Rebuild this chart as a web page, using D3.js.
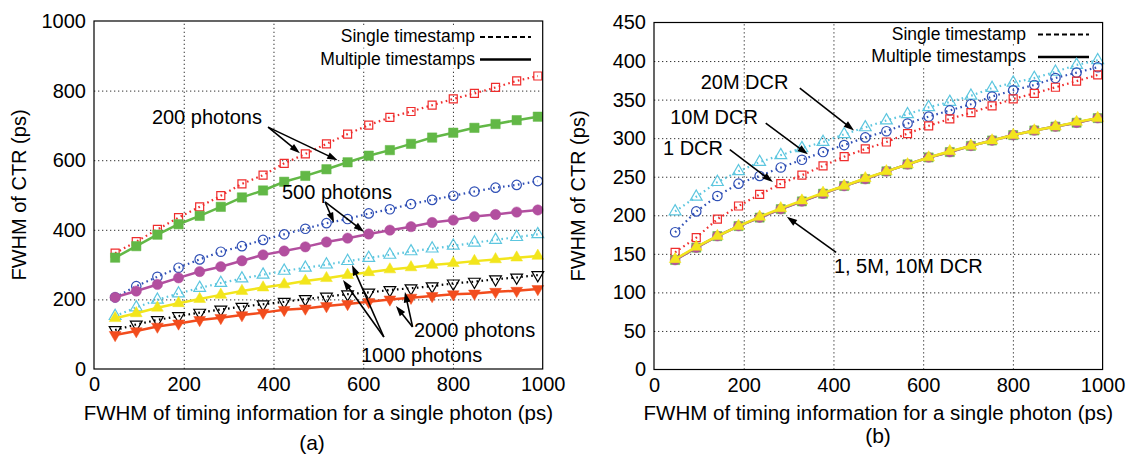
<!DOCTYPE html>
<html>
<head>
<meta charset="utf-8" />
<title>FWHM of CTR</title>
<script src="https://cdn.jsdelivr.net/npm/d3@7"></script>
<style>
  body { margin: 0; background: #fff; }
  svg text { font-family: "Liberation Sans", Arial, Helvetica, sans-serif; fill: #000; }
</style>
</head>
<body>
<div id="chart"></div>
<script>
// x positions of the points (FWHM of single photon timing, ps)
var xVals = [47.1, 94.2, 141.3, 188.4, 235.5, 282.6, 329.7, 376.8, 423.9, 471.0, 518.1,
             565.2, 612.3, 659.4, 706.5, 753.6, 800.7, 847.8, 894.9, 942.0, 989.1];

// (a) photon counts
var ph200Single  = [333, 366, 401, 435, 466, 498, 532, 557, 591, 618, 647, 675, 701, 723, 740, 758, 776, 792, 809, 828, 842];
var ph200Multi   = [320, 353, 386, 416, 440, 466, 493, 513, 538, 555, 574, 594, 613, 629, 647, 665, 679, 693, 704, 715, 725];
var ph500Single  = [206, 238, 265, 291, 315, 337, 353, 371, 387, 403, 419, 431, 447, 459, 474, 486, 498, 510, 521, 529, 540];
var ph500Multi   = [206, 224, 243, 262, 280, 294, 311, 328, 339, 351, 365, 376, 388, 399, 409, 421, 428, 438, 444, 451, 457];
var ph1000Single = [152, 177, 199, 217, 233, 247, 260, 271, 282, 291, 300, 310, 319, 328, 338, 346, 354, 363, 371, 379, 387];
var ph1000Multi  = [146, 160, 176, 189, 201, 213, 224, 234, 243, 253, 261, 270, 278, 286, 292, 299, 304, 310, 315, 320, 325];
var ph2000Single = [112, 128, 141, 152, 162, 171, 179, 186, 193, 201, 208, 215, 220, 227, 232, 238, 246, 251, 258, 263, 270];
var ph2000Multi  = [98, 109, 122, 131, 141, 147, 155, 162, 170, 174, 181, 187, 193, 200, 205, 210, 215, 217, 222, 225, 230];

// (b) dark count rates
var dcr20MSingle = [205, 224, 243, 257, 269, 278, 287, 295, 305, 314, 323, 331, 340, 347, 355, 365, 372, 378, 386, 395, 401];
var dcr10MSingle = [178, 205, 225, 241, 251, 262, 272, 282, 291, 301, 309, 319, 328, 336, 344, 354, 362, 369, 378, 385, 392];
var dcr1Single   = [152, 171, 195, 212, 227, 241, 252, 264, 276, 286, 295, 306, 316, 325, 333, 342, 351, 358, 366, 374, 382];
var dcr1Multi    = [142, 158, 173, 186, 197, 208, 218, 228, 238, 247, 257, 266, 275, 282, 290, 297, 304, 310, 315, 320, 326];
var dcr5MMulti   = [142, 158, 173, 186, 197, 208, 218, 228, 238, 247, 257, 266, 275, 282, 290, 297, 304, 310, 315, 320, 326];
var dcr10MMulti  = [143, 159, 173, 186, 198, 209, 219, 229, 238, 248, 257, 266, 275, 283, 290, 297, 304, 310, 315, 321, 326];

var xTicks = [0, 200, 400, 600, 800, 1000];
var yTicksA = [0, 200, 400, 600, 800, 1000];
var yTicksB = [0, 50, 100, 150, 200, 250, 300, 350, 400, 450];

var legendLabels = ["Single timestamp", "Multiple timestamps"];

var width = 1126, height = 457;
var svg = d3.select("#chart").append("svg").attr("width", width).attr("height", height);

var RED = "#ef2d2d", GREEN = "#62b846", BLUE = "#2f4fb5", MAGENTA = "#b24f9f",
    CYAN = "#5cc6df", YELLOW = "#f2e51c", BLACK = "#000", ORANGE = "#f24c1d";

var fmt = d3.format("d");

function drawPanel(cfg) {
  var x = d3.scaleLinear().domain([0, 1000]).range([cfg.left, cfg.right]);
  var y = d3.scaleLinear().domain([0, cfg.ymax]).range([cfg.bottom, cfg.top]);
  var g = svg.append("g");

  // grid
  g.append("g").attr("transform", "translate(0," + cfg.bottom + ")")
    .call(d3.axisBottom(x).tickValues(xTicks.slice(1, -1)).tickSize(cfg.top - cfg.bottom).tickFormat(""))
    .call(function(s) { s.select(".domain").remove(); })
    .selectAll("line").attr("stroke", "#333").attr("stroke-dasharray", "1.3,2.7");
  g.append("g").attr("transform", "translate(" + cfg.left + ",0)")
    .call(d3.axisLeft(y).tickValues(cfg.yTicks.slice(1, -1)).tickSize(cfg.left - cfg.right).tickFormat(""))
    .call(function(s) { s.select(".domain").remove(); })
    .selectAll("line").attr("stroke", "#333").attr("stroke-dasharray", "1.3,2.7");

  // tick labels
  var ax = g.append("g").attr("transform", "translate(0," + cfg.bottom + ")")
    .call(d3.axisBottom(x).tickValues(xTicks).tickFormat(fmt).tickSize(0).tickPadding(8));
  ax.select(".domain").remove();
  ax.selectAll("text").style("font-size", "20px");
  var ay = g.append("g").attr("transform", "translate(" + cfg.left + ",0)")
    .call(d3.axisLeft(y).tickValues(cfg.yTicks).tickFormat(fmt).tickSize(0).tickPadding(8));
  ay.select(".domain").remove();
  ay.selectAll("text").style("font-size", "20px");

  // legend
  var leg = g.append("g");
  legendLabels.forEach(function(lbl, i) {
    var by = cfg.legY[i];
    var t = leg.append("text").attr("x", cfg.legTextRight).attr("y", by)
      .attr("text-anchor", "end").style("font-size", "17.5px").text(lbl);
    var bb = t.node().getBBox();
    leg.insert("rect", "text").attr("x", bb.x - 3).attr("y", bb.y).attr("width", bb.width + 5)
      .attr("height", bb.height).attr("fill", "#fff");
    leg.append("line").attr("x1", cfg.legLine[0]).attr("x2", cfg.legLine[1])
      .attr("y1", by - 5).attr("y2", by - 5).attr("stroke", "#000")
      .attr("stroke-width", i === 0 ? 2 : 2.5)
      .attr("stroke-dasharray", i === 0 ? "5,3" : null);
  });

  // series
  var line = d3.line().x(function(d, i) { return x(xVals[i]); }).y(function(d) { return y(d); });
  cfg.series.forEach(function(s) {
    var sg = g.append("g");
    sg.append("path").datum(s.values).attr("d", line).attr("fill", "none")
      .attr("stroke", s.color).attr("stroke-width", s.dotted ? 2.2 : 2.5)
      .attr("stroke-dasharray", s.dotted ? "1.6,3.4" : null);
    var sym = d3.symbol().type(s.shape).size(s.size);
    sg.selectAll("path.pt").data(s.values).enter().append("path").attr("class", "pt")
      .attr("d", sym)
      .attr("transform", function(d, i) {
        return "translate(" + x(xVals[i]) + "," + y(d) + ")" + (s.down ? " rotate(180)" : "");
      })
      .attr("fill", s.open ? "none" : s.color)
      .attr("stroke", s.color).attr("stroke-width", s.open ? 1.2 : 0.5);
  });

  // border
  g.append("rect").attr("x", cfg.left).attr("y", cfg.top)
    .attr("width", cfg.right - cfg.left).attr("height", cfg.bottom - cfg.top)
    .attr("fill", "none").attr("stroke", "#000").attr("stroke-width", 1.2);

  // annotations
  cfg.notes.forEach(function(n) {
    g.append("text").attr("x", x(n.tx)).attr("y", y(n.ty)).style("font-size", "20px").text(n.text);
    n.to.forEach(function(p) {
      var x0 = x(n.from[0]), y0 = y(n.from[1]), x1 = x(p[0]), y1 = y(p[1]);
      var a = Math.atan2(y1 - y0, x1 - x0), L = 11, w = 0.32;
      g.append("line").attr("x1", x0).attr("y1", y0)
        .attr("x2", x1 - Math.cos(a) * 6).attr("y2", y1 - Math.sin(a) * 6)
        .attr("stroke", "#000").attr("stroke-width", 1.6);
      var pts = [[x1, y1],
                 [x1 - L * Math.cos(a - w), y1 - L * Math.sin(a - w)],
                 [x1 - L * Math.cos(a + w), y1 - L * Math.sin(a + w)]];
      g.append("path").attr("d", "M" + pts.join("L") + "Z").attr("fill", "#000");
    });
  });

  // axis titles
  svg.append("text").attr("x", (cfg.left + cfg.right) / 2).attr("y", 420)
    .attr("text-anchor", "middle").style("font-size", "20.5px")
    .text("FWHM of timing information for a single photon (ps)");
  svg.append("text").attr("transform", "translate(" + cfg.ytitleX + "," + ((cfg.top + cfg.bottom) / 2) + ") rotate(-90)")
    .attr("text-anchor", "middle").style("font-size", "20px").text("FWHM of CTR (ps)");
  svg.append("text").attr("x", cfg.capX).attr("y", cfg.capY)
    .attr("text-anchor", "middle").style("font-size", "21px").text(cfg.caption);
}

drawPanel({
  left: 94, right: 542.7, top: 21, bottom: 369, ymax: 1000, yTicks: yTicksA,
  legTextRight: 475, legLine: [480, 531], legY: [42, 64.5],
  ytitleX: 26, capX: 312, capY: 450, caption: "(a)",
  series: [
    { values: ph200Single, color: RED, dotted: true, open: true, shape: d3.symbolSquare, size: 64 },
    { values: ph200Multi, color: GREEN, dotted: false, open: false, shape: d3.symbolSquare, size: 88 },
    { values: ph500Single, color: BLUE, dotted: true, open: true, shape: d3.symbolCircle, size: 70 },
    { values: ph500Multi, color: MAGENTA, dotted: false, open: false, shape: d3.symbolCircle, size: 84 },
    { values: ph1000Single, color: CYAN, dotted: true, open: true, shape: d3.symbolTriangle, size: 60 },
    { values: ph1000Multi, color: YELLOW, dotted: false, open: false, shape: d3.symbolTriangle, size: 60 },
    { values: ph2000Single, color: BLACK, dotted: true, open: true, shape: d3.symbolTriangle, size: 60, down: true },
    { values: ph2000Multi, color: ORANGE, dotted: false, open: false, shape: d3.symbolTriangle, size: 60, down: true }
  ],
  notes: [
    { text: "200 photons", tx: 129, ty: 703, from: [388, 695], to: [[459, 620], [543, 600]] },
    { text: "500 photons", tx: 419, ty: 488, from: [515, 480], to: [[535, 420], [602, 394]] },
    { text: "1000 photons", tx: 595, ty: 20, from: [646, 92], to: [[555, 256], [575, 299]] },
    { text: "2000 photons", tx: 713, ty: 92, from: [710, 121], to: [[673, 181], [693, 221]] }
  ]
});

drawPanel({
  left: 654, right: 1102.6, top: 22.5, bottom: 369.5, ymax: 450, yTicks: yTicksB,
  legTextRight: 1026, legLine: [1038, 1089], legY: [39.5, 62],
  ytitleX: 585, capX: 878, capY: 443, caption: "(b)",
  series: [
    { values: dcr20MSingle, color: CYAN, dotted: true, open: true, shape: d3.symbolTriangle, size: 60 },
    { values: dcr10MSingle, color: BLUE, dotted: true, open: true, shape: d3.symbolCircle, size: 70 },
    { values: dcr1Single, color: RED, dotted: true, open: true, shape: d3.symbolSquare, size: 64 },
    { values: dcr1Multi, color: GREEN, dotted: false, open: false, shape: d3.symbolSquare, size: 84 },
    { values: dcr5MMulti, color: MAGENTA, dotted: false, open: false, shape: d3.symbolCircle, size: 76 },
    { values: dcr10MMulti, color: YELLOW, dotted: false, open: false, shape: d3.symbolTriangle, size: 60 }
  ],
  notes: [
    { text: "20M DCR", tx: 104, ty: 364, from: [325, 365], to: [[446, 310]] },
    { text: "10M DCR", tx: 36, ty: 318, from: [249, 319.5], to: [[343, 279]] },
    { text: "1 DCR", tx: 20, ty: 278, from: [169, 285], to: [[265, 243]] },
    { text: "1, 5M, 10M DCR", tx: 401, ty: 125, from: [406, 152], to: [[296, 198]] }
  ]
});
</script>
</body>
</html>
